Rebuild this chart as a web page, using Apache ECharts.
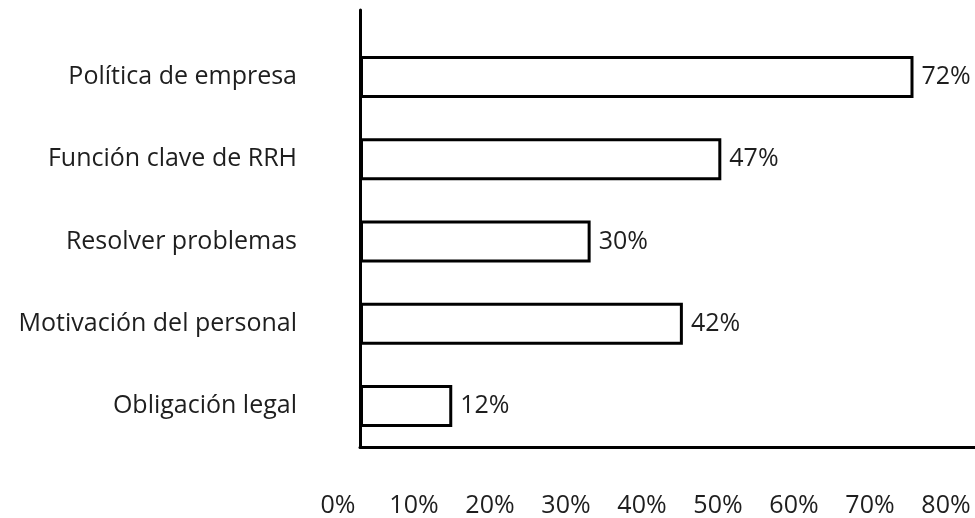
<!DOCTYPE html>
<html>
<head>
<meta charset="utf-8">
<script src="https://cdn.jsdelivr.net/npm/echarts@6/dist/echarts.min.js"></script>
<style>
  html, body { margin: 0; padding: 0; background: #ffffff; }
  #chart { width: 975px; height: 518px; }
</style>
</head>
<body>
<div id="chart"></div>
<script>
// Motivos (categorías) y porcentaje de respuestas
const categories = [
  'Política de empresa',
  'Función clave de RRH',
  'Resolver problemas',
  'Motivación del personal',
  'Obligación legal'
];
const values = [72, 47, 30, 42, 12];
const tickLabels = ['0%', '10%', '20%', '30%', '40%', '50%', '60%', '70%', '80%'];

const FONT = '"Open Sans", sans-serif';
const SIZE = 25;
const TEXT = '#1e1e1e';
const LINE = { color: '#000000', width: 3 };

const chart = echarts.init(document.getElementById('chart'), null, { renderer: 'canvas' });

chart.setOption({
  backgroundColor: '#ffffff',
  animation: false,
  grid: [
    // barras
    { left: 360, right: 0, top: 36, bottom: 71 },
    // eje vertical (más alto que la zona de barras)
    { left: 360, right: 0, top: 10, bottom: 71 },
    // etiquetas de porcentaje inferiores
    { left: 338, right: 29, top: 10, bottom: 71 }
  ],
  xAxis: [
    {
      gridIndex: 0, type: 'value', min: 0, max: 80, interval: 10,
      axisLine: { show: true, lineStyle: LINE },
      axisTick: { show: false }, axisLabel: { show: false }, splitLine: { show: false }
    },
    {
      gridIndex: 1, type: 'value', show: false
    },
    {
      gridIndex: 2, type: 'category', data: tickLabels, boundaryGap: false,
      axisLine: { show: false }, axisTick: { show: false }, splitLine: { show: false },
      axisLabel: { color: TEXT, fontFamily: FONT, fontSize: SIZE, margin: 49 }
    }
  ],
  yAxis: [
    {
      gridIndex: 0, type: 'category', data: categories, inverse: true,
      axisLine: { show: false }, axisTick: { show: false }, splitLine: { show: false },
      axisLabel: { color: TEXT, fontFamily: FONT, fontSize: SIZE, margin: 63 }
    },
    {
      gridIndex: 1, type: 'value', min: 0, max: 1,
      axisLine: { show: true, lineStyle: LINE },
      axisTick: { show: false }, axisLabel: { show: false }, splitLine: { show: false }
    },
    {
      gridIndex: 2, type: 'value', show: false
    }
  ],
  series: [
    {
      type: 'bar',
      xAxisIndex: 0, yAxisIndex: 0,
      data: values,
      barWidth: 42,
      itemStyle: { color: '#ffffff', borderColor: '#000000', borderWidth: 3 },
      label: {
        show: true, position: 'right', distance: 8,
        formatter: '{c}%', color: TEXT, fontFamily: FONT, fontSize: SIZE
      }
    }
  ]
});
</script>
</body>
</html>
